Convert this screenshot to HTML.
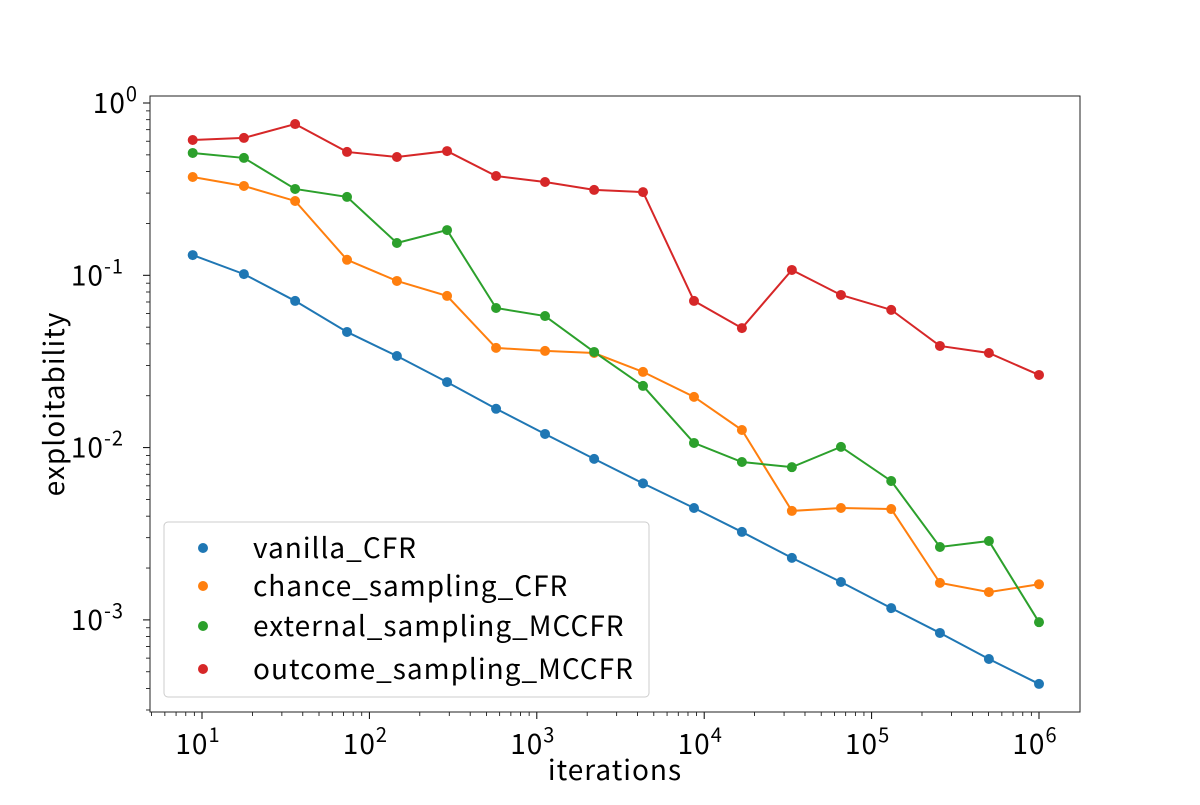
<!DOCTYPE html>
<html><head><meta charset="utf-8"><style>
html,body{margin:0;padding:0;background:#fff;}
svg text{font-family:"Noto Sans CJK JP","Liberation Sans",sans-serif;fill:#000;letter-spacing:1px;}
</style></head><body>
<svg id="chart" width="1200" height="800" xmlns="http://www.w3.org/2000/svg"></svg>
<script>
const iterations=[8.8,17.8,36,73.5,146,291,571,1120,2200,4310,8690,16800,33400,65600,131000,256000,502000,1000000];
const seriesNames=["vanilla_CFR","chance_sampling_CFR","external_sampling_MCCFR","outcome_sampling_MCCFR"];
const vanilla=[0.131,0.1016,0.071,0.0469,0.034,0.024,0.0168,0.012,0.0086,0.0062,0.00446,0.00324,0.00229,0.00166,0.00117,0.00084,0.000593,0.000425];
const chance=[0.372,0.33,0.27,0.123,0.0927,0.0759,0.0379,0.0364,0.0354,0.0275,0.0197,0.01265,0.00429,0.00446,0.0044,0.00164,0.00145,0.00161];
const external=[0.513,0.48,0.317,0.285,0.154,0.183,0.0646,0.058,0.0359,0.0228,0.01064,0.00825,0.0077,0.0101,0.0064,0.00265,0.00287,0.00097];
const outcome=[0.61,0.627,0.755,0.52,0.486,0.526,0.377,0.348,0.313,0.304,0.071,0.0494,0.1074,0.0769,0.063,0.0389,0.0354,0.0264];
const colors=["#1f77b4","#ff7f0e","#2ca02c","#d62728"];
const xTickExp=[1,2,3,4,5,6];
const yTickExp=[0,-1,-2,-3];

const NS="http://www.w3.org/2000/svg";
const svg=document.getElementById('chart');
const L=150,R=1080,T=96,B=712;
const X=v=>202+(Math.log10(v)-1)*167.4;
const Y=v=>103-Math.log10(v)*172.3;
function el(tag,attrs,parent){const e=document.createElementNS(NS,tag);for(const k in attrs)e.setAttribute(k,attrs[k]);(parent||svg).appendChild(e);return e;}

for(let d=0;d<=6;d++)for(let m=2;m<=9;m++){const v=m*Math.pow(10,d);const x=X(v);if(x>L&&x<R){const t=el('line',{x1:x,x2:x,y1:B,y2:B+4,stroke:'#000','stroke-width':0.8});

}}
for(let d=-4;d<=0;d++)for(let m=2;m<=9;m++){const v=m*Math.pow(10,d);const y=Y(v);if(y>T&&y<B){const t=el('line',{x1:L-4,x2:L,y1:y,y2:y,stroke:'#000','stroke-width':0.8});

}}
xTickExp.forEach(e=>{const x=X(Math.pow(10,e));
const t=el('line',{x1:x,x2:x,y1:B,y2:B+7,stroke:'#000','stroke-width':1});


const tx=el('text',{x:x-4,y:B+42,'font-size':28,'text-anchor':'middle'});


tx.innerHTML='10<tspan dy="-12" font-size="20">'+e+'</tspan>';});
yTickExp.forEach(e=>{const y=Y(Math.pow(10,e));
const t=el('line',{x1:L-7,x2:L,y1:y,y2:y,stroke:'#000','stroke-width':1});


const tx=el('text',{x:e<0?124:138,y:y+10,'font-size':28,'text-anchor':'end'});


tx.innerHTML='10<tspan dy="-12" font-size="20">'+e+'</tspan>';});

const frame=el('rect',{x:L,y:T,width:R-L,height:B-T,fill:'none',stroke:'#222','stroke-width':1});



[vanilla,chance,external,outcome].forEach((s,i)=>{
const p=el('polyline',{points:s.map((v,j)=>X(iterations[j])+','+Y(v)).join(' '),fill:'none',stroke:colors[i],'stroke-width':2});


s.forEach((v,j)=>{const c=el('circle',{cx:X(iterations[j]),cy:Y(v),r:5,fill:colors[i]});

});});

const xl=el('text',{x:615,y:780,'font-size':28,'text-anchor':'middle'});


xl.textContent='iterations';
const yl=el('text',{x:0,y:0,'font-size':28,'text-anchor':'middle',transform:'translate(64,404) rotate(-90)'});


yl.textContent='exploitability';

const lg=el('rect',{x:164,y:522,width:485,height:175,rx:4,fill:'#fff','fill-opacity':0.8,stroke:'#ccc','stroke-width':1});


const ly=[548,586,626,669];
seriesNames.forEach((n,i)=>{
const c=el('circle',{cx:203,cy:ly[i],r:5,fill:colors[i]});


const t=el('text',{x:253,y:ly[i]+10,'font-size':28});


t.textContent=n;});
</script>
</body></html>
